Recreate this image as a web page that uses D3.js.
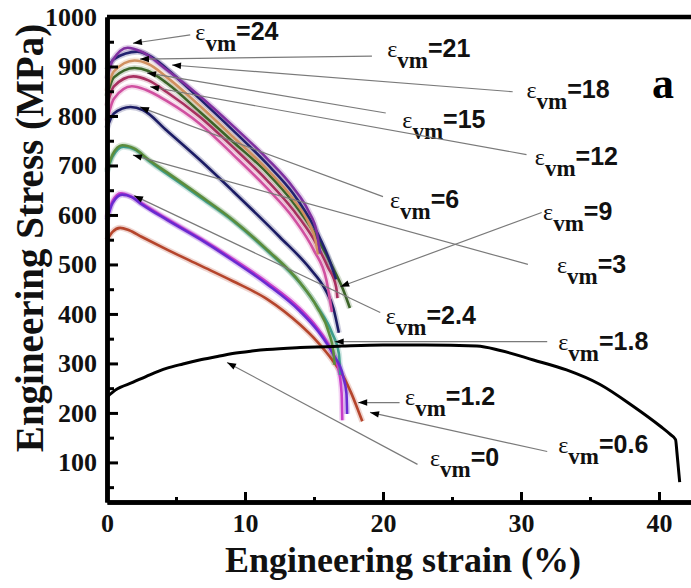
<!DOCTYPE html>
<html>
<head>
<meta charset="utf-8">
<script src="https://cdn.jsdelivr.net/npm/d3@7"></script>
<style>
body { margin: 0; background: #fff; }
svg { display: block; }
</style>
</head>
<body>
<script>
// stress-strain curves, [strain %, stress MPa]
var e0 = [[0,232],[0.6,246],[1.9,262],[3.1,277],[4.3,290],[5.5,299],[6.7,307],[8,314],[9.1,320],[10.5,325],[11.6,328],[14,332],[17,335],[20,337],[23,337],[26.8,335],[28.5,326],[30.9,307],[33.3,287],[35.7,258],[38.1,214],[40.1,173],[40.8,157],[41.2,146],[41.3,120],[41.4,90],[41.5,60]];
var e06 = [[0,549],[0.4,566],[0.95,574],[1.6,569],[2.5,556],[4.35,530],[6.74,498],[9.13,466],[11.6,430],[14,378],[15.2,345],[16.4,304],[17.2,270],[17.7,240],[18.2,205],[18.5,183]];
var e12 = [[0,595],[0.4,628],[1.0,644],[1.7,638],[2.5,624],[4.35,592],[6.74,553],[9.13,511],[11.6,464],[14,410],[15.2,373],[16.2,330],[16.8,285],[17.0,240],[17.05,185]];
var e18 = [[0,686],[0.4,718],[1.2,738],[2.1,731],[3,710],[4.35,683],[6.74,636],[9.13,588],[11.6,528],[14,462],[15.3,412],[16.3,362],[16.8,320],[16.9,277]];
var e24 = [[0,590],[0.4,624],[1.1,641],[1.8,636],[2.5,622],[4.35,590],[6.74,551],[9.13,508],[11.6,460],[14,405],[15.3,365],[16.4,318],[17.1,275],[17.35,240],[17.4,198]];
var e3 = [[0,690],[0.4,722],[1.1,741],[2,734],[3,712],[4.35,686],[6.74,639],[9.13,590],[11.6,530],[14,463],[15.2,415],[16.1,360],[16.4,325],[16.5,297]];
var e6 = [[0,775],[0.5,805],[1.7,818],[2.6,812],[4.35,770],[6.74,711],[9.13,648],[12.5,556],[14.7,492],[15.8,450],[16.4,412],[16.8,362]];
var e9 = [[0,820],[0.5,860],[1.9,880],[3,872],[4.35,848],[6.74,798],[9.13,737],[11.6,670],[13.5,610],[15,550],[16,495],[16.6,455],[16.7,432]];
var e12b = [[0,790],[0.5,835],[1.8,860],[2.8,853],[4.35,830],[6.74,784],[9.13,722],[11.6,654],[13.5,594],[15,528],[15.9,468],[16.3,404]];
var e15 = [[0,840],[0.5,878],[2.0,897],[3,891],[4.35,866],[6.74,808],[9.13,748],[11.6,685],[13.5,625],[15,565],[16.3,497],[17.1,450],[17.6,412]];
var e18b = [[0,850],[0.5,890],[2.0,912],[3,905],[4.35,878],[6.74,820],[9.13,758],[11.6,692],[13.5,632],[14.6,585],[15.1,550],[15.3,520]];
var e21 = [[0,893],[0.5,915],[2.2,930],[3.2,920],[4.35,895],[6.74,834],[9.13,771],[11.6,703],[13.5,643],[15,577],[16.1,510],[16.6,470]];
var e24b = [[0,875],[0.4,912],[1.5,938],[2.5,930],[4.35,893],[6.74,840],[9.13,780],[11.6,714],[13.5,655],[14.6,608],[15.2,565],[15.45,522]];

var curveColors = ['#b5452c','#c83cc8','#3c9c8c','#6a2ad0','#5c8c3c','#1c1c64','#a83060','#d050a0','#3c6428','#d09060','#222270','#8030a0'];
var curves = [e06, e12, e18, e24, e3, e6, e9, e12b, e15, e18b, e21, e24b];

var xTicks = [0, 10, 20, 30, 40];
var xMinor = [5, 15, 25, 35];
var yTicks = [100, 200, 300, 400, 500, 600, 700, 800, 900, 1000];
var yMinor = [50, 150, 250, 350, 450, 550, 650, 750, 850, 950];

// labels: text, label anchor, leader start, arrow tip (data units)
var noteText = ['24','21','18','15','12','6','9','3','2.4','1.8','1.2','0.6','0'];
var noteAt = [[6.4,954],[20.3,919],[30.4,837],[21.4,776],[31.0,701],[20.5,615],[31.6,590],[32.6,483],[20.2,379],[32.7,328],[21.6,217],[32.7,120],[23.4,92]];
var noteFrom = [[6.03,964],[19.2,921],[29.4,849],[20.2,806],[30.4,722],[20.0,637],[31.5,605],[30.5,500],[19.8,403],[31.9,344],[21.2,221],[31.9,122],[22.5,96]];
var noteTo = [[1.88,947],[2.39,915],[4.71,903],[2.9,887],[3.12,859],[2.39,818],[16.9,455],[1.88,721],[1.96,639],[16.5,344],[18.2,221],[19.06,201],[8.7,302]];

var W = 691, H = 588;
var svg = d3.select('body').append('svg').attr('width', W).attr('height', H);

var x = d3.scaleLinear().domain([0, 45]).range([107, 728]);
var y = d3.scaleLinear().domain([20, 1000]).range([502, 17]);

var line = d3.line()
  .x(function(d){ return x(d[0]); })
  .y(function(d){ return y(d[1]); })
  .curve(d3.curveMonotoneX);

// colored curves with a soft halo
var cg = svg.append('g');
curves.forEach(function(c, i){
  cg.append('path').attr('d', line(c)).attr('fill', 'none')
    .attr('stroke', curveColors[i]).attr('stroke-opacity', 0.22).attr('stroke-width', 6);
});
curves.forEach(function(c, i){
  cg.append('path').attr('d', line(c)).attr('fill', 'none')
    .attr('stroke', curveColors[i]).attr('stroke-width', 2.6);
});
cg.append('path').attr('d', line(e0)).attr('fill', 'none')
  .attr('stroke', '#000').attr('stroke-width', 3).attr('stroke-linejoin', 'round');

// leader lines + arrowheads
var ng = svg.append('g');
noteText.forEach(function(t, i){
  var x1 = x(noteFrom[i][0]), y1 = y(noteFrom[i][1]);
  var x2 = x(noteTo[i][0]), y2 = y(noteTo[i][1]);
  ng.append('line').attr('x1', x1).attr('y1', y1).attr('x2', x2).attr('y2', y2)
    .attr('stroke', '#7a7a7a').attr('stroke-width', 1.2);
  var a = Math.atan2(y2 - y1, x2 - x1) * 180 / Math.PI;
  ng.append('path').attr('d', 'M0,0L-9,-3.2L-9,3.2Z').attr('fill', '#000')
    .attr('transform', 'translate(' + x2 + ',' + y2 + ') rotate(' + a + ')');
  var tx = ng.append('text').attr('x', x(noteAt[i][0])).attr('y', y(noteAt[i][1])).attr('fill', '#111');
  tx.append('tspan').text('ε').attr('font-family', 'Liberation Serif, serif').attr('font-size', 24);
  tx.append('tspan').text('vm').attr('font-family', 'Liberation Serif, serif')
    .attr('font-weight', 'bold').attr('font-size', 23).attr('dy', 11);
  tx.append('tspan').text('=' + t).attr('font-family', 'Liberation Sans, Arial, sans-serif')
    .attr('font-weight', 'bold').attr('font-size', 25).attr('dy', -11);
});

// axes
var font = 'Liberation Serif, Times New Roman, serif';
svg.append('g').attr('transform', 'translate(0,' + y(20) + ')')
  .call(d3.axisBottom(x).tickValues(xTicks).tickSizeInner(-10).tickSizeOuter(0).tickPadding(12).tickFormat(d3.format('d')));
svg.append('g').attr('transform', 'translate(0,' + y(20) + ')')
  .call(d3.axisBottom(x).tickValues(xMinor).tickSizeInner(-5).tickSizeOuter(0).tickFormat(''));
svg.append('g').attr('transform', 'translate(' + x(0) + ',0)')
  .call(d3.axisLeft(y).tickValues(yTicks).tickSizeInner(-11).tickSizeOuter(0).tickPadding(10).tickFormat(d3.format('d')));
svg.append('g').attr('transform', 'translate(' + x(0) + ',0)')
  .call(d3.axisLeft(y).tickValues(yMinor).tickSizeInner(-7).tickSizeOuter(0).tickFormat(''));

svg.selectAll('.domain').attr('stroke', '#000').attr('stroke-width', 4.5);
svg.selectAll('.tick line').attr('stroke', '#000').attr('stroke-width', 3);
svg.selectAll('.tick text').attr('font-family', font).attr('font-weight', 'bold')
  .attr('font-size', 26).attr('fill', '#111');

// top frame
svg.append('line').attr('x1', x(0)).attr('x2', W).attr('y1', y(1000)).attr('y2', y(1000))
  .attr('stroke', '#000').attr('stroke-width', 4.5);

// titles
svg.append('text').attr('x', 403).attr('y', 572).attr('text-anchor', 'middle')
  .attr('font-family', font).attr('font-weight', 'bold').attr('font-size', 36).attr('fill', '#111')
  .text('Engineering strain (%)');
svg.append('text').attr('transform', 'translate(43,238) rotate(-90)').attr('text-anchor', 'middle')
  .attr('font-family', font).attr('font-weight', 'bold').attr('font-size', 39).attr('fill', '#111')
  .text('Engineering Stress (MPa)');
svg.append('text').attr('x', 652).attr('y', 98)
  .attr('font-family', font).attr('font-weight', 'bold').attr('font-size', 44).attr('fill', '#000')
  .text('a');
</script>
</body>
</html>
